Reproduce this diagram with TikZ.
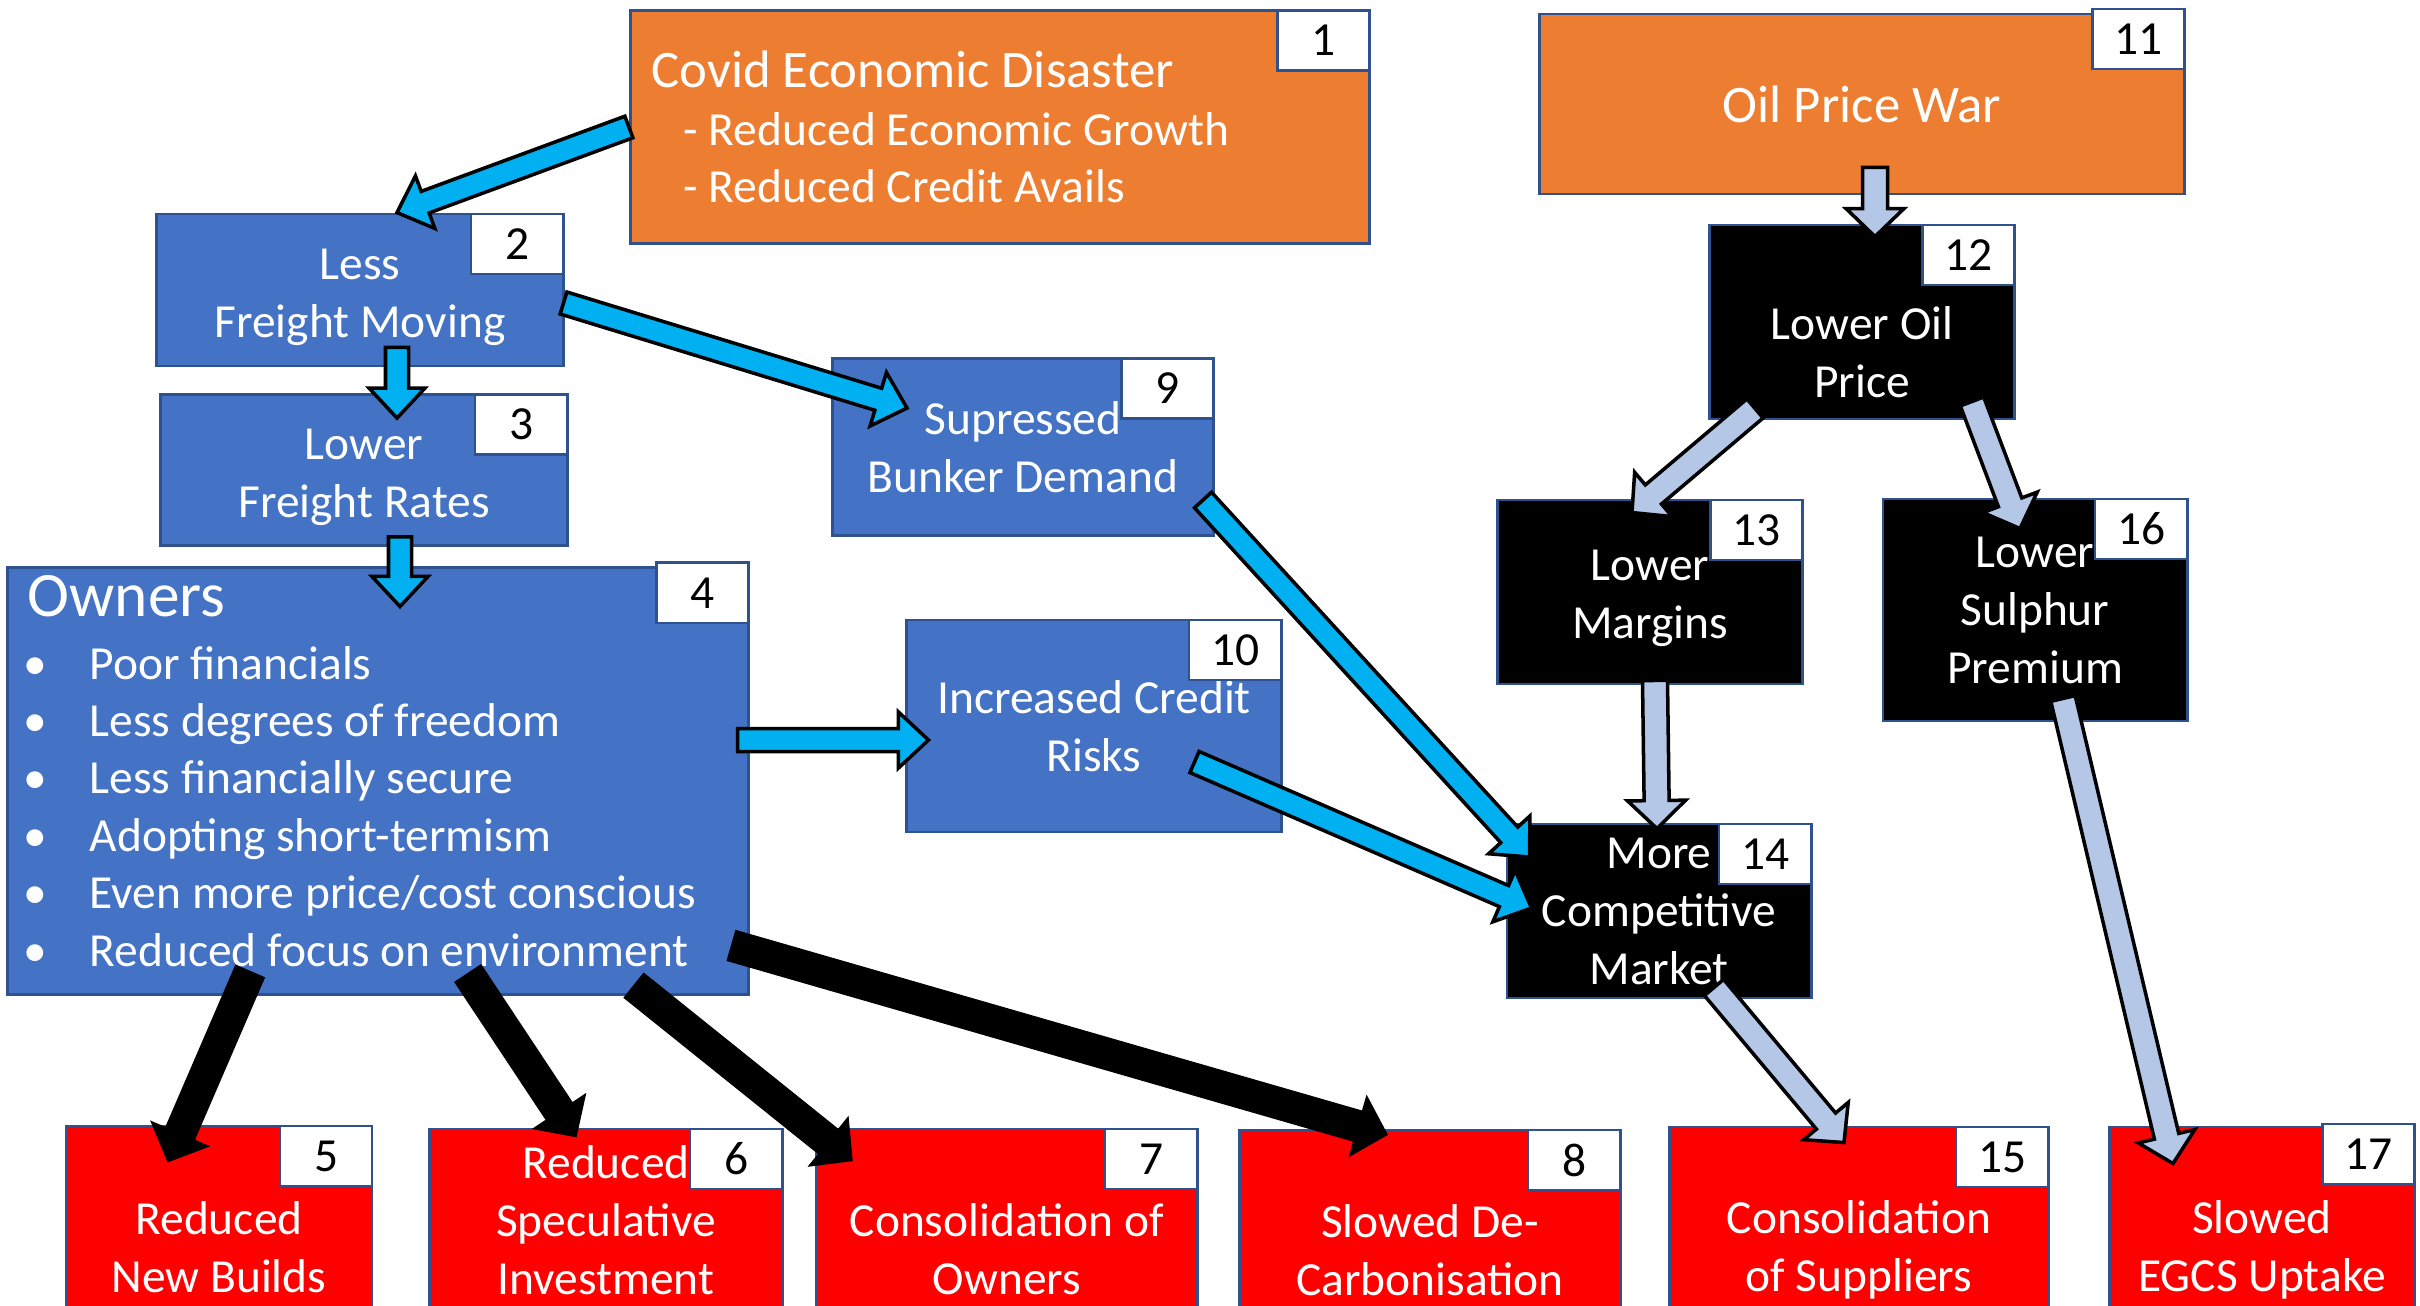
\documentclass[tikz,border=0pt]{standalone}
\usepackage{fontspec}
\setmainfont{Carlito}
\usetikzlibrary{calc,positioning}

\definecolor{covidorange}{HTML}{ED7D31}
\definecolor{ownerblue}{HTML}{4472C4}
\definecolor{edgeblue}{HTML}{2F528F}
\definecolor{flowcyan}{HTML}{00B0F0}
\definecolor{oilpale}{HTML}{B4C7E7}
\definecolor{effectred}{HTML}{FF0000}

% outlined block arrow: style, half shaft, half head, head length, from, to
\newcommand{\fatarrow}[6]{%
  \path #5 coordinate (fa-s) #6 coordinate (fa-e);
  \path ($(fa-e)!#4!(fa-s)$) coordinate (fa-h);
  \filldraw[#1] ($(fa-s)!#2!90:(fa-e)$) -- ($(fa-h)!#2!90:(fa-e)$)
    -- ($(fa-h)!#3!90:(fa-e)$) -- (fa-e) -- ($(fa-h)!#3!-90:(fa-e)$)
    -- ($(fa-h)!#2!-90:(fa-e)$) -- ($(fa-s)!#2!-90:(fa-e)$) -- cycle;}
\newcommand{\cyanarrow}[2]{\fatarrow{draw=black,fill=flowcyan,line width=1pt}{0.115cm}{0.28cm}{0.3cm}{#1}{#2}}
\newcommand{\palearrow}[2]{\fatarrow{draw=black,fill=oilpale,line width=1pt}{0.125cm}{0.29cm}{0.28cm}{#1}{#2}}
\newcommand{\blackarrow}[2]{\fatarrow{draw=black,fill=black}{0.155cm}{0.31cm}{0.3cm}{#1}{#2}}

\tikzset{
  box/.style={draw=edgeblue, line width=0.8pt, text=white, align=center,
    inner sep=0pt, font=\fontsize{13.5}{16.5}\selectfont},
  txt/.style={text=white, align=center, inner sep=0pt,
    font=\fontsize{13.5}{16.5}\selectfont},
  tag/.style={draw=edgeblue, fill=white, line width=0.8pt, anchor=north east,
    minimum width=0.92cm, minimum height=0.6cm, inner sep=0pt,
    font=\fontsize{13.5}{16.5}\selectfont},
}

\begin{document}
\begin{tikzpicture}[x=0.01cm,y=-0.01cm]
  \useasboundingbox (0,0) rectangle (2420,1305);
  \clip (0,0) rectangle (2420,1305);

  % ====== Causes ======
  \node[box, fill=covidorange, minimum width=7.39cm, minimum height=2.33cm] (covid) at (1000,127) {};
  \node[txt, anchor=west, align=left, font=\fontsize{13.5}{16.4}\selectfont] (covidtxt) at (651,127)
    {{\fontsize{15}{16.4}\selectfont Covid Economic Disaster}\\\hspace*{0.32cm}- Reduced Economic Growth\\\hspace*{0.32cm}- Reduced Credit Avails};
  \node[box, fill=covidorange, minimum width=6.45cm, minimum height=1.80cm, font=\fontsize{15}{18}\selectfont] (oilwar) at (1862,104) {Oil Price War};

  % ====== Freight side (blue) ======
  \node[box, fill=ownerblue, minimum width=4.06cm, minimum height=1.52cm] (fmove) at (360,290) {};
  \node[txt] (fmovetxt) at (360,297) {Less\\Freight Moving};
  \node[box, fill=ownerblue, minimum width=4.06cm, minimum height=1.51cm] (frate) at (364,470) {};
  \node[txt] (fratetxt) at (364,477) {Lower\\Freight Rates};
  \node[box, fill=ownerblue, minimum width=3.81cm, minimum height=1.77cm] (bunker) at (1023,447) {Supressed\\Bunker Demand};
  \node[box, fill=ownerblue, minimum width=3.74cm, minimum height=2.12cm] (credit) at (1094,726) {Increased Credit\\Risks};
  \node[box, fill=ownerblue, minimum width=7.40cm, minimum height=4.26cm] (owners) at (378,781) {};
  \node[txt, anchor=base west, font=\fontsize{18}{21}\selectfont] (ownhead) at (27,616) {Owners};
  \foreach \txtline [count=\i] in {Poor financials, Less degrees of freedom, Less financially secure,
      Adopting short-termism, Even more price/cost conscious, Reduced focus on environment}{
    \node[txt, anchor=base] (dot-\i) at (35,{679+57.4*(\i-1)}) {\textbullet};
    \node[txt, anchor=base west] (own-\i) at (89,{679+57.4*(\i-1)}) {\txtline};
  }

  % ====== Oil side (black) ======
  \node[box, fill=black, minimum width=3.05cm, minimum height=1.94cm] (oilprice) at (1862,322) {};
  \node[txt] (oilpricetxt) at (1862,352) {Lower Oil\\Price};
  \node[box, fill=black, minimum width=3.05cm, minimum height=1.84cm] (margins) at (1650,592) {};
  \node[txt] (marginstxt) at (1650,598) {Lower\\Margins};
  \node[box, fill=black, minimum width=3.04cm, minimum height=2.22cm] (sulphur) at (2035,610) {Lower\\Sulphur\\Premium};
  \node[box, fill=black, minimum width=3.04cm, minimum height=1.74cm] (market) at (1659,911) {More\\Competitive\\Market};

  % ====== Effects (red) ======
  \node[box, fill=effectred, minimum width=3.06cm, minimum height=2.42cm] (newbuild) at (219,1247) {Reduced\\New Builds};
  \node[box, fill=effectred, minimum width=3.52cm, minimum height=2.42cm] (specinv) at (606,1250) {};
  \node[txt] (specinvtxt) at (606,1220) {Reduced\\Speculative\\Investment};
  \node[box, fill=effectred, minimum width=3.80cm, minimum height=2.40cm] (consown) at (1007,1249) {Consolidation of\\Owners};
  \node[box, fill=effectred, minimum width=3.80cm, minimum height=2.40cm] (decarb) at (1430,1250) {Slowed De-\\Carbonisation};
  \node[box, fill=effectred, minimum width=3.78cm, minimum height=2.46cm] (conssup) at (1859,1250) {Consolidation\\of Suppliers};
  \node[box, fill=effectred, minimum width=3.05cm, minimum height=2.46cm] (egcs) at (2262,1250) {Slowed\\EGCS Uptake};

  % ====== Number tags ======
  \node[tag] (t1) at (covid.north east) {1};
  \node[tag] (t2) at (fmove.north east) {2};
  \node[tag] (t3) at (frate.north east) {3};
  \node[tag] (t4) at ($(owners.north east)+(0,-5)$) {4};
  \node[tag] (t5) at (newbuild.north east) {5};
  \node[tag] (t6) at (specinv.north east) {6};
  \node[tag] (t7) at (consown.north east) {7};
  \node[tag] (t8) at (decarb.north east) {8};
  \node[tag] (t9) at (bunker.north east) {9};
  \node[tag] (t10) at (credit.north east) {10};
  \node[tag] (t11) at ($(oilwar.north east)+(0,-5)$) {11};
  \node[tag] (t12) at (oilprice.north east) {12};
  \node[tag] (t13) at (margins.north east) {13};
  \node[tag] (t14) at (market.north east) {14};
  \node[tag] (t15) at (conssup.north east) {15};
  \node[tag] (t16) at (sulphur.north east) {16};
  \node[tag] (t17) at ($(egcs.north east)+(0,-3)$) {17};

  % ====== Block arrows ======
  \cyanarrow{(covid.west)}{($(fmove.north)+(37,0)$)}
  \cyanarrow{($(fmove.south)+(37,-20)$)}{($(frate.north)+(33,25)$)}
  \cyanarrow{($(frate.south)+(36,-10)$)}{($(owners.north)+(22,40)$)}
  \cyanarrow{($(owners.east)+(-12,-41)$)}{($(credit.west)+(23,14)$)}
  \cyanarrow{($(fmove.east)+(-1,13)$)}{($(bunker.north west)+(76,51)$)}
  \cyanarrow{($(bunker.east)+(-12,53)$)}{($(market.west)+(24,-54)$)}
  \cyanarrow{($(credit.east)+(-88,36)$)}{($(market.west)+(26,-3)$)}

  \palearrow{($(oilwar.south)+(13,-28)$)}{($(oilprice.north)+(13,13)$)}
  \palearrow{($(oilprice.south)+(-107,-12)$)}{($(margins.north)+(-18,14)$)}
  \palearrow{($(oilprice.south east)+(-44,-19)$)}{($(sulphur.north)+(-15,31)$)}
  \palearrow{($(margins.south)+(5,-5)$)}{($(market.north)+(-2,6)$)}
  \palearrow{($(sulphur.south)+(28,-24)$)}{($(egcs.north)+(-89,38)$)}
  \palearrow{($(market.south)+(55,-12)$)}{($(conssup.north)+(-15,17)$)}

  \blackarrow{($(owners.south)+(-128,-24)$)}{($(newbuild.north)+(-51,37)$)}
  \blackarrow{($(owners.south)+(90,-22)$)}{($(specinv.north)+(-30,9)$)}
  \blackarrow{($(owners.south)+(256,-10)$)}{($(consown.north)+(-155,33)$)}
  \blackarrow{($(owners.south east)+(-18,-50)$)}{($(decarb.north)+(-43,6)$)}
\end{tikzpicture}
\end{document}
